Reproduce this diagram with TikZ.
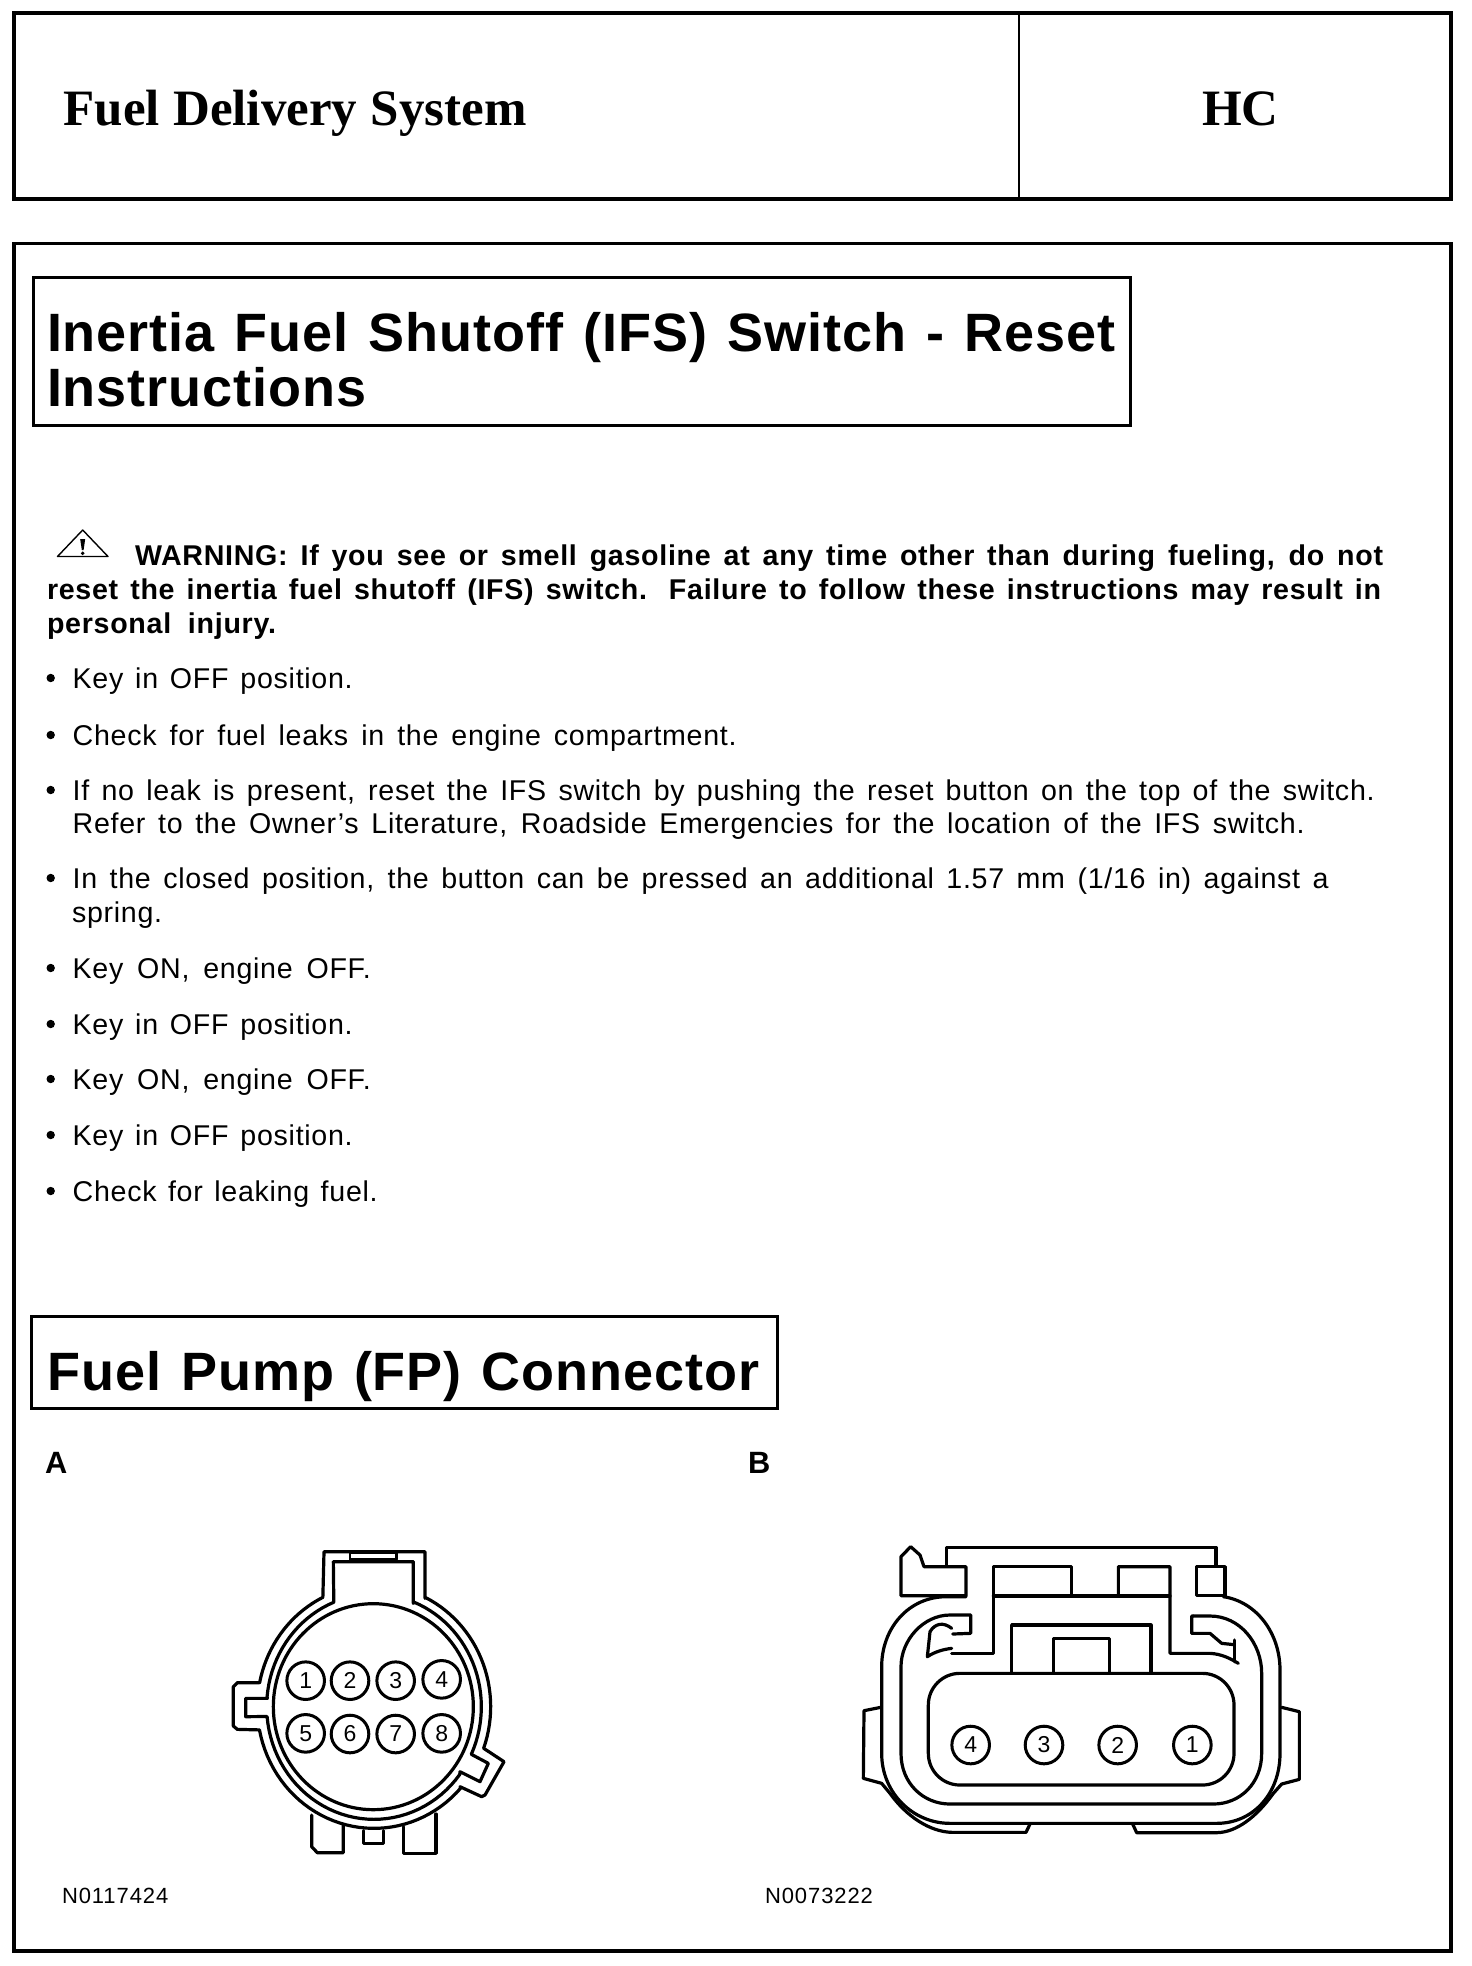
\documentclass[tikz,border=0pt]{standalone}
\usepackage{fontspec}
\setmainfont{Liberation Sans}
\newfontfamily\serifhead{Liberation Serif}
\newfontfamily\bodyfont[LetterSpace=2.5,BoldFont={Liberation Sans Bold}]{Liberation Sans}
\newfontfamily\headfont[LetterSpace=1.8,BoldFont={Liberation Sans Bold}]{Liberation Sans}
\newfontfamily\codefont[LetterSpace=4.2]{Liberation Sans}
\tikzset{
  txt/.style={anchor=base west,inner sep=0pt,outer sep=0pt,text=black},
  body/.style={txt,font=\fontsize{14.3}{16}\bodyfont},
  warn/.style={txt,font=\fontsize{14.3}{16}\bodyfont\bfseries},
  headtxt/.style={txt,font=\fontsize{27}{30}\headfont\bfseries},
  serif/.style={txt,font=\fontsize{25.5}{30}\serifhead\bfseries},
  letter/.style={txt,font=\fontsize{15.4}{18}\selectfont\bfseries},
  code/.style={txt,font=\fontsize{11}{12}\codefont},
  frameB/.style={draw=black,line width=2pt},
  frameC/.style={draw=black,line width=1.5pt},
  conn/.style={draw=black,line width=1.6pt,line join=round,line cap=round},
  pin/.style={circle,draw=black,line width=1.5pt,minimum size=18.8pt,inner sep=0pt,font=\fontsize{11.5}{12}\selectfont},
  bul/.style={circle,fill=black,minimum size=4.2pt,inner sep=0pt},
}
\newcommand\fitl[5][body]{\node[#1] (#2) at (#3) {\makebox[#4pt][s]{#5}};}
\newcommand\bulat[2]{\node[bul] (#1) at (50.7,#2) {};}
\begin{document}
\begin{tikzpicture}[x=0.5pt,y=-0.5pt]
\useasboundingbox (0,0) rectangle (1472,1966);
\fill[white] (0,0) rectangle (1472,1966);
% page header
\draw[frameB] (14,13) rectangle (1451,199);
\draw[draw=black,line width=1.2pt] (1019,13) -- (1019,199);
\fitl[serif]{title}{63.5,125}{231.5}{Fuel Delivery System}
\node[serif] (hc) at (1202,125) {HC};
% main frame
\draw[frameB,line width=1.7pt] (14,243.5) rectangle (1451,1951);
% section heading 1
\draw[frameC] (33,277) rectangle (1130,425);
\fitl[headtxt]{h1a}{47,351}{534}{Inertia Fuel Shutoff (IFS) Switch - Reset}
\node[headtxt] (h1b) at (47,406) {Instructions};
% warning triangle
\draw[black,line width=0.7pt,line join=round] (82.7,530) -- (108,556.5) -- (57.5,556.5) -- cycle;
\fill[black] (80.2,539) -- (85.2,539) -- (83.6,550) -- (81.8,550) -- cycle;
\fill[black] (82.7,553.3) circle (1.9);
% warning text
\fitl[warn]{w1}{135,565}{624}{WARNING: If you see or smell gasoline at any time other than during fueling, do not}
\fitl[warn]{w2}{47,599}{667}{reset the inertia fuel shutoff (IFS) switch. Failure to follow these instructions may result in}
\fitl[warn]{w3}{47,633}{114.5}{personal injury.}
% bullets
\bulat{b1}{678}
\fitl{t1}{72.7,688}{140}{Key in OFF position.}
\bulat{b2}{735}
\fitl{t2}{72.7,745}{332}{Check for fuel leaks in the engine compartment.}
\bulat{b3}{790}
\fitl{t3}{72.7,800}{651}{If no leak is present, reset the IFS switch by pushing the reset button on the top of the switch.}
\fitl{t3b}{72.7,833}{616}{Refer to the Owner’s Literature, Roadside Emergencies for the location of the IFS switch.}
\bulat{b4}{878}
\fitl{t4}{72.7,888}{628}{In the closed position, the button can be pressed an additional 1.57 mm (1/16 in) against a}
\node[body] (t4b) at (72,922) {spring.};
\bulat{b5}{968}
\fitl{t5}{72.7,978}{149}{Key ON, engine OFF.}
\bulat{b6}{1024}
\fitl{t6}{72.7,1034}{140}{Key in OFF position.}
\bulat{b7}{1079}
\fitl{t7}{72.7,1089.5}{149}{Key ON, engine OFF.}
\bulat{b8}{1135}
\fitl{t8}{72.7,1145}{140}{Key in OFF position.}
\bulat{b9}{1191}
\fitl{t9}{72.7,1201}{152.5}{Check for leaking fuel.}
% section heading 2
\draw[frameC] (31,1316) rectangle (777,1408);
\fitl[headtxt]{h2}{47.5,1390}{356}{Fuel Pump (FP) Connector}
\node[letter] (la) at (45,1473) {A};
\node[letter] (lb) at (748,1473) {B};
\node[code] (ca) at (62,1903) {N0117424};
\node[code] (cb) at (765,1903) {N0073222};
% connector A
\begin{scope}[shift={(180,1500)},x=0.16667pt,y=-0.16667pt]
\draw[conn] (580,620) ellipse[x radius=300,y radius=309];
\draw[conn] (432,155) -- (735,155) -- (735,295)
  -- plot[domain=-64:20,samples=30] ({582+350*cos(\x)},{620+365*sin(\x)})
  -- (972,785) -- (915,885) -- (905,890) -- (840,860)
  -- plot[domain=42:169,samples=40] ({582+350*cos(\x)},{620+365*sin(\x)})
  -- (172,688) -- (160,678) -- (160,560) -- (172,548) -- (238,548)
  -- plot[domain=191.5:244,samples=20] ({582+350*cos(\x)},{620+365*sin(\x)})
  -- (432,155);
\draw[conn] (460,185) -- (700,185) -- (700,310)
  -- plot[domain=-68:25,samples=30] ({582+322*cos(\x)},{620+338*sin(\x)})
  -- (925,790) -- (900,845) -- (840,815)
  -- plot[domain=37:175,samples=40] ({582+322*cos(\x)},{620+338*sin(\x)})
  -- (197,650) -- (197,595) -- (262,595)
  -- plot[domain=185:248,samples=20] ({582+322*cos(\x)},{620+338*sin(\x)})
  -- (460,185);
\draw[conn,line width=1.2pt] (510,178) -- (510,158) -- (650,158) -- (650,178) -- cycle;
\draw[conn] (395,945) -- (395,1040) -- (412,1058) -- (490,1058) -- (490,975);
\draw[conn] (670,980) -- (670,1060) -- (768,1060) -- (768,942);
\draw[conn] (550,992) -- (550,1030) -- (610,1030) -- (610,992);
\foreach \n/\px/\py in {1/377/542,2/510/542,3/647/542,4/785/538,5/377/700,6/510/702,7/647/702,8/785/700}
  \node[pin] (a\n) at (\px,\py) {\n};
\end{scope}
% connector B
\begin{scope}[shift={(840,1500)},x=0.16667pt,y=-0.16667pt]
\draw[conn] (1150,290) .. controls (1250,305) and (1320,400) .. (1320,510) -- (1320,760)
  .. controls (1320,880) and (1240,970) .. (1130,970) -- (330,970)
  .. controls (220,970) and (125,880) .. (125,760) -- (125,500)
  .. controls (125,385) and (205,290) .. (320,290) -- (378,290);
\draw[conn] (122,622) -- (72,632) -- (70,835) -- (125,850) -- (150,880)
  .. controls (200,950) and (270,995) .. (335,997) -- (558,997) -- (570,972);
\draw[conn] (1325,622) -- (1378,635) -- (1378,838) -- (1325,852) -- (1300,880)
  .. controls (1250,950) and (1190,997) .. (1130,998) -- (890,998) -- (878,972);
\draw[conn] (1060,348) -- (1110,348) .. controls (1200,348) and (1265,430) .. (1265,520) -- (1265,760)
  .. controls (1265,850) and (1200,912) .. (1120,912) -- (330,912)
  .. controls (250,912) and (183,850) .. (183,760) -- (183,500)
  .. controls (183,420) and (250,345) .. (330,345) -- (392,345) -- (392,400) -- (338,402);
\draw[conn] (335,385) .. controls (310,365) and (285,370) .. (270,395) -- (262,470) .. controls (285,455) and (310,448) .. (335,445);
\draw[conn] (335,460) -- (460,460) -- (460,200) -- (695,200) -- (695,288);
\draw[conn] (460,288) -- (990,288);
\draw[conn] (835,288) -- (835,200) -- (990,200) -- (990,460) -- (1110,460) .. controls (1145,462) and (1170,475) .. (1195,490);
\draw[conn] (1183,420) -- (1183,485);
\draw[conn] (1183,434) -- (1145,430) -- (1110,400) -- (1055,400) -- (1055,348) -- (1060,348);
\draw[conn] (320,198) -- (320,142) -- (1128,142) -- (1128,198);
\draw[conn] (183,287) -- (183,170) -- (212,140) -- (240,165) -- (252,200) -- (378,200) -- (378,287) -- cycle;
\draw[conn] (1070,200) -- (1155,200) -- (1155,287) -- (1070,287) -- cycle;
\draw[conn] (515,518) -- (515,375) -- (933,375) -- (933,518);
\draw[conn] (640,518) -- (640,415) -- (808,415) -- (808,518);
\draw[conn,rounded corners=15.8pt] (265,520) rectangle (1182,855);
\foreach \n/\px in {4/392,3/612,2/833,1/1057}
  \node[pin] (b\n) at (\px,735) {\n};
\end{scope}
\end{tikzpicture}
\end{document}
